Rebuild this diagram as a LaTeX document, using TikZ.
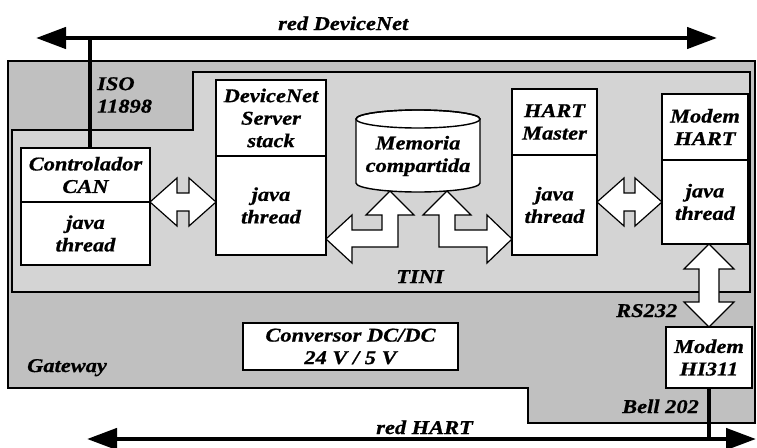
\documentclass[tikz,border=0pt]{standalone}
\usepackage{fontspec}
\setmainfont{Liberation Serif}[FakeStretch=1.15, BoldItalicFeatures={FakeBold=0.8}]
\usetikzlibrary{arrows.meta,positioning,calc}
\definecolor{gatewaygray}{RGB}{192,192,192}
\definecolor{tinigray}{RGB}{212,212,212}
\tikzset{
  txt/.style={font=\fontsize{19.5}{22.5}\selectfont\bfseries\itshape, inner sep=0pt},
  blk/.style={txt, draw, fill=white, line width=1.4pt, align=center, outer sep=0pt},
  bigarrow/.style={draw, fill=white, line width=1.2pt, line join=miter},
  bus/.style={line width=4.5pt, {Triangle[length=30pt,width=21pt]}-{Triangle[length=30pt,width=21pt]}},
  wire/.style={line width=4.5pt}
}
\newcommand{\hdblarrow}[2]{%
  \filldraw[bigarrow] (#1) -- ++(27,-24) -- ++(0,15) -- ($(#2)+(-27,-9)$) -- ++(0,-15) -- (#2)
    -- ++(-27,24) -- ++(0,-15) -- ($(#1)+(27,9)$) -- ++(0,15) -- cycle;}
\newcommand{\vdblarrow}[2]{%
  \filldraw[bigarrow] (#1) -- ++(25,25) -- ++(-15,0) -- ($(#2)+(10,-25)$) -- ++(15,0) -- (#2)
    -- ++(-25,-25) -- ++(15,0) -- ($(#1)+(-10,25)$) -- ++(-15,0) -- cycle;}
\begin{document}
\begin{tikzpicture}[x=1pt,y=-1pt]
  \useasboundingbox (0,0) rectangle (757,447);
  % Gateway and TINI areas
  \filldraw[fill=gatewaygray, line width=1.5pt] (8,61) -- (755,61) -- (755,423) -- (528,423) -- (528,388) -- (8,388) -- cycle;
  \filldraw[fill=tinigray, line width=1.2pt] (12,130) -- (193,130) -- (193,72) -- (750,72) -- (750,292) -- (12,292) -- cycle;
  % buses
  \coordinate (dnL) at (36,38);
  \coordinate (dnR) at (717,38);
  \draw[bus] (dnL) -- (dnR);
  \node[txt, anchor=base west] (dnlbl) at (278,30) {red DeviceNet};
  \coordinate (hL) at (87,439);
  \coordinate (hR) at (756,439);
  \draw[bus] (hL) -- (hR);
  \node[txt, anchor=base east] (hlbl) at (473,434) {red HART};
  % boxes
  \node[blk, minimum width=129pt, minimum height=54pt] (canT) at (85.5,175) {Controlador\\CAN};
  \node[blk, minimum width=129pt, minimum height=63pt, below=0pt of canT] (canB) {java\\thread};
  \node[blk, minimum width=110pt, minimum height=76pt] (dnsT) at (271,118) {DeviceNet\\Server\\stack};
  \node[blk, minimum width=110pt, minimum height=99pt, below=0pt of dnsT] (dnsB) {java\\thread};
  \node[blk, minimum width=85pt, minimum height=66pt] (hmT) at (554.5,122) {HART\\Master};
  \node[blk, minimum width=85pt, minimum height=100pt, below=0pt of hmT] (hmB) {java\\thread};
  \node[blk, minimum width=86pt, minimum height=66pt] (mhT) at (705,127) {Modem\\HART};
  \node[blk, minimum width=86pt, minimum height=84pt, below=0pt of mhT] (mhB) {java\\thread};
  \node[blk, minimum width=86pt, minimum height=61pt] (hi) at (709,357.5) {Modem\\HI311};
  \node[blk, minimum width=215pt, minimum height=47pt] (conv) at (350.5,346.5) {Conversor DC/DC\\24 V / 5 V};
  % taps
  \coordinate (dntap) at (90,38);
  \draw[wire] (dntap) -- (dntap |- canT.north);
  \draw[wire] (hi.south) -- (hi.south |- hL);
  % shared memory
  \filldraw[fill=white, line width=1.4pt] (356,119) -- (356,183) arc[start angle=180, end angle=0, x radius=62, y radius=9]
    -- (480,119) arc[start angle=0, end angle=-180, x radius=62, y radius=9] -- cycle;
  \draw[line width=1.4pt] (418,119) ellipse[x radius=62, y radius=9];
  \node[txt, align=center] (mem) at (418,156) {Memoria\\compartida};
  % labels
  \node[txt, align=left, anchor=north west] (iso) at (97,77) {ISO\\11898};
  \node[txt, anchor=base] (tini) at (420,283) {TINI};
  \node[txt, anchor=base west] (gw) at (27,372) {Gateway};
  \node[txt, anchor=base west] (rs) at (616,317) {RS232};
  \node[txt, anchor=base west] (bell) at (622,413) {Bell 202};
  % block arrows
  \coordinate (a1) at (canT.south east -| dnsB.west);
  \hdblarrow{canT.south east}{a1}
  \coordinate (a2) at (hmB.east |- mhB.west);
  \hdblarrow{a2}{mhB.west}
  \coordinate (a3) at (hi.north |- mhB.south);
  \vdblarrow{a3}{hi.north}
  \coordinate (m1) at (390,191);
  \filldraw[bigarrow] (m1) -- ++(24,24) -- ++(-16,0) -- ++(0,32) -- ++(-46,0) -- ++(0,16) -- (dnsB.east |- 0,239)
    -- ++(26,-24) -- ++(0,15) -- ++(30,0) -- ++(0,-15) -- ++(-16,0) -- cycle;
  \coordinate (m2) at (447,191);
  \filldraw[bigarrow] (m2) -- ++(24,24) -- ++(-16,0) -- ++(0,15) -- ++(32,0) -- ++(0,-15) -- (hmB.west |- 0,239)
    -- ++(-25,24) -- ++(0,-16) -- ++(-48,0) -- ++(0,-32) -- ++(-16,0) -- cycle;
\end{tikzpicture}
\end{document}
